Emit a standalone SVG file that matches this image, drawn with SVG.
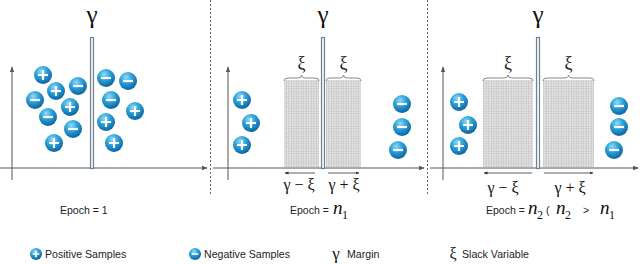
<svg xmlns="http://www.w3.org/2000/svg" width="640" height="264" viewBox="0 0 640 264">
<defs>
<radialGradient id="ball" cx="0.4" cy="0.3" r="0.75">
<stop offset="0" stop-color="#8fdcf8"/>
<stop offset="0.45" stop-color="#2a9fd8"/>
<stop offset="1" stop-color="#0a5c98"/>
</radialGradient>
<pattern id="hatch" width="2.5" height="2.5" patternUnits="userSpaceOnUse">
<rect width="2.5" height="2.5" fill="#e4e4e4"/>
<circle cx="1.25" cy="1.25" r="0.75" fill="#b4b4b4"/>
</pattern>
<marker id="ah" viewBox="0 0 8 8" refX="7" refY="4" markerWidth="6" markerHeight="6" orient="auto">
<path d="M0,1 L8,4 L0,7 z" fill="#555"/>
</marker>
<marker id="ah2" viewBox="0 0 8 8" refX="7" refY="4" markerWidth="5" markerHeight="5" orient="auto">
<path d="M0,1 L8,4 L0,7 z" fill="#333"/>
</marker>
<g id="pos"><circle r="9" fill="url(#ball)"/><path d="M-5,0 H5 M0,-5 V5" stroke="#fff" stroke-width="2.2"/></g>
<g id="neg"><circle r="9" fill="url(#ball)"/><path d="M-5,0 H5" stroke="#fff" stroke-width="2.2"/></g>
<g id="spos"><circle r="6" fill="url(#ball)"/><path d="M-3.3,0 H3.3 M0,-3.3 V3.3" stroke="#fff" stroke-width="1.6"/></g>
<g id="sneg"><circle r="6" fill="url(#ball)"/><path d="M-3.3,0 H3.3" stroke="#fff" stroke-width="1.6"/></g>
</defs>
<style>
.axis{stroke:#555;stroke-width:1;fill:none}
.div{stroke:#666;stroke-width:1;stroke-dasharray:2,2;fill:none}
.bar{fill:#f4f6f8;stroke:#6f8191;stroke-width:1.2}
.gam{font-family:"Liberation Serif",serif;font-size:25px;fill:#111}
.xi{font-family:"Liberation Serif",serif;font-size:18px;fill:#222}
.lab{font-family:"Liberation Serif",serif;font-size:16px;fill:#111}
.brace{fill:none;stroke:#888;stroke-width:1}
.arr{stroke:#333;stroke-width:0.8;fill:none}
.ep{font-family:"Liberation Sans",Arial,sans-serif;font-size:10.5px;fill:#222}
.n{font-family:"Liberation Serif",serif;font-style:italic;font-size:19px;fill:#111}
.sub{font-family:"Liberation Serif",serif;font-size:12px;fill:#111}
.leg{font-family:"Liberation Sans",Arial,sans-serif;font-size:10.6px;fill:#222}
.hat{fill:url(#hatch)}
</style>

<g id="dividers">
<line class="div" x1="210.5" y1="0" x2="210.5" y2="196"/>
<line class="div" x1="427.5" y1="0" x2="427.5" y2="196"/>
</g>

<g id="panel1">
<line class="axis" x1="12" y1="180" x2="12" y2="67" marker-end="url(#ah)"/>
<line class="axis" x1="0" y1="168" x2="207" y2="168" marker-end="url(#ah)"/>
<rect class="bar" x="90.5" y="37.5" width="3" height="131"/>
<text class="gam" x="92" y="23" text-anchor="middle">γ</text>
<use href="#pos" x="43" y="75"/>
<use href="#pos" x="56" y="91"/>
<use href="#neg" x="78" y="86"/>
<use href="#neg" x="35" y="100"/>
<use href="#pos" x="70" y="107"/>
<use href="#neg" x="48" y="117"/>
<use href="#neg" x="73" y="129"/>
<use href="#pos" x="54" y="143"/>
<use href="#neg" x="106" y="78"/>
<use href="#neg" x="128" y="81"/>
<use href="#neg" x="111" y="100"/>
<use href="#pos" x="135" y="111"/>
<use href="#pos" x="106" y="122"/>
<use href="#pos" x="114" y="143"/>
<text class="ep" x="60" y="214">Epoch = 1</text>
</g>

<g id="panel2">
<line class="axis" x1="228" y1="180" x2="228" y2="67" marker-end="url(#ah)"/>
<line class="axis" x1="213" y1="168" x2="424" y2="168" marker-end="url(#ah)"/>
<rect class="hat" x="284" y="80" width="35" height="87"/>
<rect class="hat" x="326" y="80" width="35" height="87"/>
<rect class="bar" x="321.5" y="37.5" width="3" height="131"/>
<text class="gam" x="323" y="23" text-anchor="middle">γ</text>
<path class="brace" d="M284,81 Q284,78 288,78 L298,78 Q301.5,78 301.5,75 Q301.5,78 305,78 L315,78 Q319,78 319,81"/>
<path class="brace" d="M326,81 Q326,78 330,78 L340,78 Q343.5,78 343.5,75 Q343.5,78 347,78 L357,78 Q361,78 361,81"/>
<text class="xi" x="301.5" y="69" text-anchor="middle">ξ</text>
<text class="xi" x="343.5" y="69" text-anchor="middle">ξ</text>
<line class="arr" x1="315" y1="173" x2="285" y2="173" marker-end="url(#ah2)"/>
<line class="arr" x1="328" y1="173" x2="359" y2="173" marker-end="url(#ah2)"/>
<text class="lab" x="299" y="190" text-anchor="middle">γ − ξ</text>
<text class="lab" x="344" y="190" text-anchor="middle">γ + ξ</text>
<use href="#pos" x="242" y="100"/>
<use href="#pos" x="251" y="123"/>
<use href="#pos" x="242" y="145"/>
<use href="#neg" x="402" y="104"/>
<use href="#neg" x="402" y="127"/>
<use href="#neg" x="398" y="150"/>
<text class="ep" x="290" y="214">Epoch =</text>
<text class="n" x="333" y="214">n</text><text class="sub" x="342" y="219">1</text>
</g>

<g id="panel3">
<line class="axis" x1="443" y1="180" x2="443" y2="67" marker-end="url(#ah)"/>
<line class="axis" x1="430" y1="168" x2="638" y2="168" marker-end="url(#ah)"/>
<rect class="hat" x="483" y="80" width="50" height="87"/>
<rect class="hat" x="543" y="80" width="51" height="87"/>
<rect class="bar" x="536.5" y="37.5" width="3" height="131"/>
<text class="gam" x="538" y="23" text-anchor="middle">γ</text>
<path class="brace" d="M483,81 Q483,78 487,78 L504,78 Q508,78 508,75 Q508,78 512,78 L529,78 Q533,78 533,81"/>
<path class="brace" d="M543,81 Q543,78 547,78 L564,78 Q568.5,78 568.5,75 Q568.5,78 573,78 L590,78 Q594,78 594,81"/>
<text class="xi" x="508" y="69" text-anchor="middle">ξ</text>
<text class="xi" x="568.5" y="69" text-anchor="middle">ξ</text>
<line class="arr" x1="532" y1="173" x2="484" y2="173" marker-end="url(#ah2)"/>
<line class="arr" x1="544" y1="173" x2="593" y2="173" marker-end="url(#ah2)"/>
<text class="lab" x="503" y="193" text-anchor="middle">γ − ξ</text>
<text class="lab" x="570" y="193" text-anchor="middle">γ + ξ</text>
<use href="#pos" x="459" y="102"/>
<use href="#pos" x="468" y="125"/>
<use href="#pos" x="459" y="146"/>
<use href="#neg" x="619" y="106"/>
<use href="#neg" x="619" y="127"/>
<use href="#neg" x="614" y="150"/>
<text class="ep" x="486" y="214">Epoch =</text>
<text class="n" x="528" y="214">n</text><text class="sub" x="537" y="219">2</text>
<text class="ep" x="546" y="214">(</text>
<text class="n" x="556" y="214">n</text><text class="sub" x="565" y="219">2</text>
<text class="ep" x="583" y="214">&gt;</text>
<text class="n" x="600" y="214">n</text><text class="sub" x="609" y="219">1</text>
</g>

<g id="legend">
<use href="#spos" x="36" y="254"/>
<text class="leg" x="45" y="258">Positive Samples</text>
<use href="#sneg" x="195" y="254"/>
<text class="leg" x="204" y="258">Negative Samples</text>
<text class="gam" x="336" y="259" text-anchor="middle" style="font-size:17px">γ</text>
<text class="leg" x="347" y="258">Margin</text>
<text class="xi" x="453" y="259" text-anchor="middle" style="font-size:16px">ξ</text>
<text class="leg" x="462" y="258">Slack Variable</text>
</g>
</svg>
